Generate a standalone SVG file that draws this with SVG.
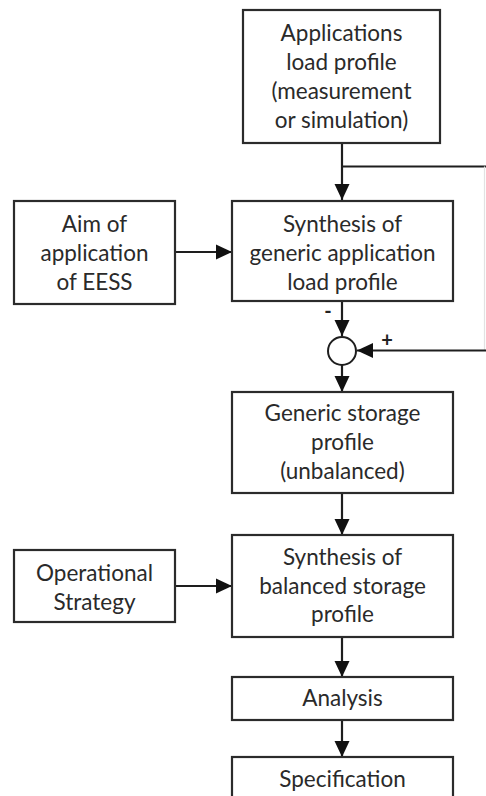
<svg xmlns="http://www.w3.org/2000/svg" width="486" height="796" viewBox="0 0 486 796">
<style>
.box{fill:#fff;stroke:#2b2b2b;stroke-width:2.2}
.t{font-family:Lato,"Open Sans","Liberation Sans",sans-serif;font-size:22.5px;fill:#2a2a2a;text-anchor:middle}
.ln{fill:none;stroke:#1e1e1e;stroke-width:2.2}
.faint{fill:none;stroke:#e2e2e2;stroke-width:1.2}
.sg{font-family:Lato,"Open Sans","Liberation Sans",sans-serif;font-size:20px;font-weight:bold;fill:#222;text-anchor:middle}
</style>
<defs>
<marker id="ah" viewBox="0 0 16 16" refX="16" refY="8" markerWidth="16" markerHeight="16" markerUnits="userSpaceOnUse" orient="auto">
<path d="M0,0.5 L16,8 L0,15.5 Z" fill="#111"/>
</marker>
</defs>
<rect width="486" height="796" fill="#fff"/>
<g id="connectors">
<line class="ln" x1="342" y1="143" x2="342" y2="200" marker-end="url(#ah)"/>
<line class="ln" x1="342" y1="166.5" x2="486" y2="166.5"/>
<line class="faint" x1="484.5" y1="166.5" x2="484.5" y2="350.5"/>
<line class="ln" x1="486" y1="350.5" x2="357" y2="350.5" marker-end="url(#ah)"/>
<line class="ln" x1="175" y1="252" x2="232" y2="252" marker-end="url(#ah)"/>
<line class="ln" x1="342" y1="301" x2="342" y2="336" marker-end="url(#ah)"/>
<line class="ln" x1="342" y1="365" x2="342" y2="392" marker-end="url(#ah)"/>
<line class="ln" x1="342" y1="493" x2="342" y2="535" marker-end="url(#ah)"/>
<line class="ln" x1="175" y1="586" x2="232" y2="586" marker-end="url(#ah)"/>
<line class="ln" x1="342" y1="637" x2="342" y2="677" marker-end="url(#ah)"/>
<line class="ln" x1="342" y1="720" x2="342" y2="757" marker-end="url(#ah)"/>
<text class="sg" x="328" y="318">-</text>
<text class="sg" x="387" y="347">+</text>
</g>
<g id="n-applications">
<rect class="box" x="243" y="10" width="197" height="133"/>
<text class="t" x="341.5" y="41">Applications</text>
<text class="t" x="341.5" y="70">load profile</text>
<text class="t" x="341.5" y="99">(measurement</text>
<text class="t" x="341.5" y="128">or simulation)</text>
</g>
<g id="n-aim">
<rect class="box" x="14" y="201" width="161" height="103"/>
<text class="t" x="94.5" y="232">Aim of</text>
<text class="t" x="94.5" y="261">application</text>
<text class="t" x="94.5" y="290">of EESS</text>
</g>
<g id="n-synth-generic">
<rect class="box" x="232" y="201" width="221" height="100"/>
<text class="t" x="342.5" y="232">Synthesis of</text>
<text class="t" x="342.5" y="261">generic application</text>
<text class="t" x="342.5" y="290">load profile</text>
</g>
<g id="n-sum">
<circle cx="342" cy="351" r="14" fill="#fff" stroke="#1e1e1e" stroke-width="2"/>
</g>
<g id="n-generic-storage">
<rect class="box" x="232" y="392" width="221" height="101"/>
<text class="t" x="342.5" y="421">Generic storage</text>
<text class="t" x="342.5" y="450">profile</text>
<text class="t" x="342.5" y="479">(unbalanced)</text>
</g>
<g id="n-operational">
<rect class="box" x="14" y="550" width="161" height="72"/>
<text class="t" x="94.5" y="581">Operational</text>
<text class="t" x="94.5" y="610">Strategy</text>
</g>
<g id="n-synth-balanced">
<rect class="box" x="232" y="535" width="221" height="102"/>
<text class="t" x="342.5" y="565">Synthesis of</text>
<text class="t" x="342.5" y="594">balanced storage</text>
<text class="t" x="342.5" y="622">profile</text>
</g>
<g id="n-analysis">
<rect class="box" x="232" y="677" width="221" height="43"/>
<text class="t" x="342.5" y="706">Analysis</text>
</g>
<g id="n-specification">
<rect class="box" x="232" y="757" width="221" height="60"/>
<text class="t" x="342.5" y="787">Specification</text>
</g>
</svg>
